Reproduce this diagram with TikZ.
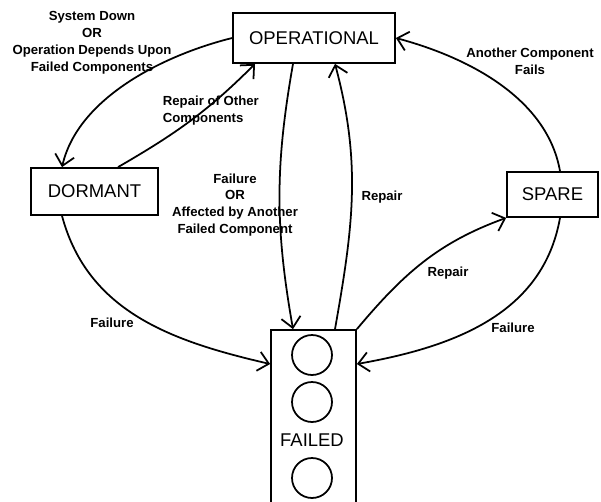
\documentclass[tikz,border=0pt]{standalone}
\usepackage{fontspec}
\setmainfont{Liberation Sans}
\usetikzlibrary{arrows.meta}

\begin{document}
\begin{tikzpicture}[x=0.02cm,y=0.02cm,line width=1pt,
  >={Straight Barb[length=6pt,width=11pt]},
  state/.style={draw,font=\fontsize{10.5}{12}\selectfont,inner sep=0pt},
  lamp/.style={draw,circle,minimum size=0.8cm,inner sep=0pt},
  lbl/.style={font=\bfseries\fontsize{7.5}{9.6}\selectfont,align=center,inner sep=0pt}]

  \useasboundingbox (0,0) rectangle (601,501);
  \clip (0,0) rectangle (601,501);

  \node[state,minimum width=3.24cm,minimum height=1cm] (ope) at (314,463) {OPERATIONAL};
  \node[state,minimum width=2.54cm,minimum height=0.94cm] (dor) at (94.5,309.5) {DORMANT};
  \node[state,minimum width=1.82cm,minimum height=0.9cm] (spa) at (552.5,306.5) {SPARE};
  \node[state,minimum width=1.7cm,minimum height=4cm] (failed) at (313.5,71) {};

  \node[lamp] (lamp1) at (312,146) {};
  \node[lamp] (lamp2) at (312,99) {};
  \node[state,draw=none] (failedtxt) at (312,61) {FAILED};
  \node[lamp] (lamp3) at (312,23) {};

  % labels
  \node[lbl] (sysdown) at (92,458) {System Down\\OR\\Operation Depends Upon\\Failed Components};
  \node[lbl,anchor=west,align=left] (repoth) at (162,390) {Repair of Other\\Components};
  \node[lbl] (failor) at (235,296) {Failure\\OR\\Affected by Another\\Failed Component};
  \node[lbl] (repope) at (382,304) {Repair};
  \node[lbl] (another) at (530,440) {Another Component\\Fails};
  \node[lbl] (repspa) at (448,228) {Repair};
  \node[lbl] (faildor) at (112,178) {Failure};
  \node[lbl] (failspa) at (513,173) {Failure};

  % transitions
  \draw[->] (ope.west) to[out=194,in=77,looseness=0.85] ([xshift=-0.65cm]dor.north);
  \draw[->] ([xshift=0.47cm]dor.north) to[out=30,in=225] ([xshift=-1.18cm]ope.south);
  \draw[->] ([xshift=-0.42cm]ope.south) to[out=260,in=100] ([xshift=-0.41cm]failed.north);
  \draw[->] ([xshift=0.43cm]failed.north) to[out=80,in=-75] ([xshift=0.42cm]ope.south);
  \draw[->] ([xshift=0.15cm]spa.north) to[out=100,in=-15,looseness=0.9] (ope.east);
  \draw[->] (failed.north east) to[out=50,in=200] (spa.south west);
  \draw[->] ([xshift=-0.65cm]dor.south) to[out=-75,in=167] ([yshift=1.32cm]failed.west);
  \draw[->] ([xshift=0.15cm]spa.south) to[out=260,in=10] ([yshift=1.32cm]failed.east);

\end{tikzpicture}
\end{document}
